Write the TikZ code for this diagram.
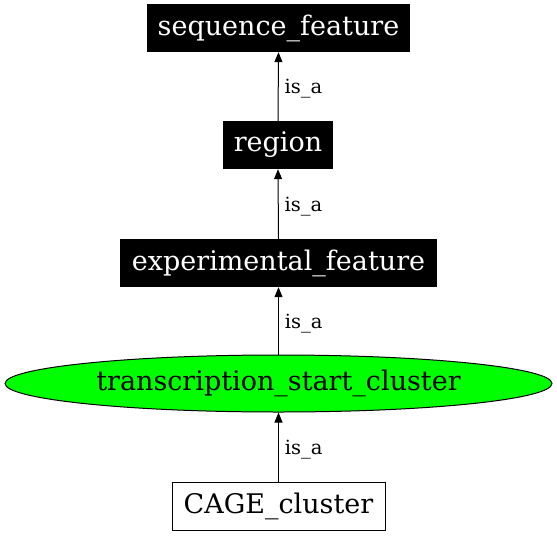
\documentclass[tikz,border=0pt]{standalone}
\usepackage{fontspec}
\setmainfont{DejaVu Serif}
\usetikzlibrary{shapes.geometric, arrows.meta}

\tikzset{
  termbox/.style={fill=black, text=white, inner sep=0pt, minimum height=48pt, font=\fontsize{27}{30}\selectfont},
  plainbox/.style={draw=black, line width=1pt, fill=white, inner sep=0pt, minimum height=48pt, font=\fontsize{27}{30}\selectfont},
  hitnode/.style={shape=ellipse, draw=black, line width=1pt, fill=green, inner sep=0pt, minimum width=547pt, minimum height=57pt, font=\fontsize{27}{30}\selectfont},
  isa/.style={draw=black, line width=1pt, -{Triangle[length=10pt, width=8pt]}},
  isalabel/.style={right=2.5pt, yshift=-2.5pt, font=\fontsize{19.5}{22}\selectfont}
}

\begin{document}
\begin{tikzpicture}[x=1pt, y=-1pt]
    \useasboundingbox (0, 0) rectangle (557, 536);
    % \draw[help lines] (0, 0) grid[step=50] (557, 536);
    \node [termbox, minimum width=263pt] (seqfeat) at (278.5, 28) {sequence\_feature};
    \node [termbox, minimum width=110pt] (region) at (278, 145) {region};
    \node [termbox, minimum width=317pt] (expfeat) at (278.5, 263) {experimental\_feature};
    \node [hitnode] (tss) at (278.5, 383.5) {transcription\_start\_cluster};
    \node [plainbox, minimum width=213pt] (cage) at (278.5, 506) {CAGE\_cluster};
    % is_a edges, child to parent
    \path[isa] (region.north) -- (seqfeat.south) node [midway, isalabel] {is\_a};
    \path[isa] (expfeat.north) -- (region.south) node [midway, isalabel] {is\_a};
    \path[isa] (tss.north) -- (expfeat.south) node [midway, isalabel] {is\_a};
    \path[isa] (cage.north) -- (tss.south) node [midway, isalabel] {is\_a};
  \end{tikzpicture}
\end{document}
